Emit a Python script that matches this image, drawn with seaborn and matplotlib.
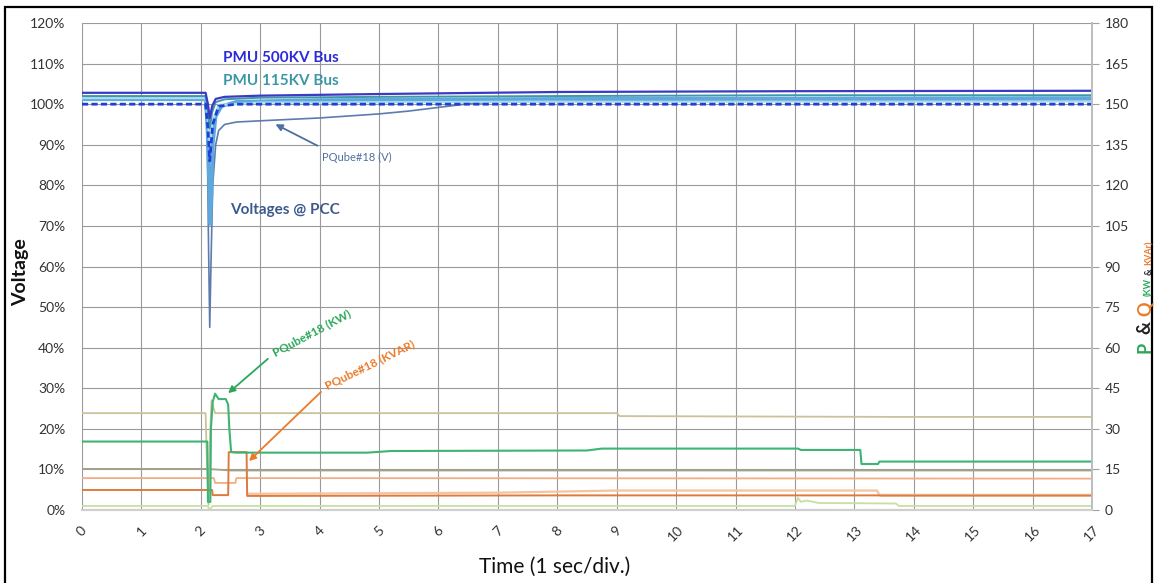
import matplotlib
matplotlib.use("Agg")
import matplotlib.pyplot as plt
import seaborn as sns
import numpy as np
from matplotlib.patches import Rectangle

sns.set_theme(style="white")
plt.rcParams['font.family'] = ['Lato', 'DejaVu Sans']

# ---------------- data ----------------
# Voltage series (percent, left axis)
v500_t = [0, 2.08, 2.12, 2.15, 2.19, 2.25, 2.4, 3, 5, 8, 12, 17]
v500_v = [102.8, 102.8, 100, 96.5, 99.5, 101.3, 101.8, 102.1, 102.5, 103.0, 103.2, 103.3]

v115_t = [0, 2.08, 2.12, 2.15, 2.19, 2.25, 2.4, 3, 5, 8, 12, 17]
v115_v = [102.0, 102.0, 98, 94, 98, 100.5, 101.2, 101.6, 101.8, 102.0, 102.2, 102.2]

vcyan_t = [0, 2.08, 2.12, 2.15, 2.2, 2.3, 3, 8, 17]
vcyan_v = [101.5, 101.5, 96, 90, 96, 99.8, 100.4, 100.6, 100.7]

vlight_t = [0, 2.08, 2.11, 2.14, 2.16, 2.18, 2.2, 2.25, 2.35, 2.6, 4, 8, 17]
vlight_v = [101.2, 101.2, 95, 80, 70.5, 78, 90, 97, 99.5, 100.6, 101.0, 101.3, 101.5]

vdash_t = [0, 2.08, 2.12, 2.15, 2.2, 2.3, 2.6, 17]
vdash_v = [100, 100, 94, 86, 95, 99.5, 100, 100]

vpq_t = [0, 2.08, 2.11, 2.13, 2.15, 2.17, 2.2, 2.25, 2.3, 2.4, 2.6, 3, 4, 5, 5.5, 6, 6.5, 7, 9, 17]
vpq_v = [101.3, 101.3, 90, 65, 45, 60, 80, 90, 93.5, 95, 95.6, 95.9, 96.6, 97.6, 98.3, 99.2, 100.1, 100.6, 100.9, 101.0]

# P & Q series (right axis, kW / kVAr)
khaki_t = [0, 2.08, 2.1, 2.13, 2.16, 2.18, 2.21, 2.24, 9.0, 9.05, 13.8, 17]
khaki_v = [35.8, 35.8, 20, 2, 30, 40.5, 38, 35.8, 35.8, 34.7, 34.4, 34.4]

kw_t = [0, 2.11, 2.12, 2.16, 2.17, 2.2, 2.24, 2.3, 2.42, 2.46, 2.48, 2.51, 2.6, 4.8, 5.2,
        8.5, 8.75, 12.05, 12.1, 13.1, 13.12, 13.4, 13.42, 17]
kw_v = [25.3, 25.3, 3, 3, 30, 40, 43, 41, 41, 39, 30, 21.4, 21.2, 21.2, 21.8,
        22.0, 22.7, 22.7, 22.2, 22.2, 17.0, 17.0, 17.9, 17.9]

olive_t = [0, 2.1, 2.5, 17]
olive_v = [15.2, 15.2, 14.6, 14.6]

lorange_t = [0, 2.22, 2.24, 2.58, 2.6, 17]
lorange_v = [11.8, 11.8, 10.0, 10.0, 11.8, 11.6]

kvar_t = [0, 2.19, 2.2, 2.46, 2.47, 2.77, 2.78, 8, 13.4, 13.45, 17]
kvar_v = [7.4, 7.4, 5.5, 5.5, 21.4, 21.4, 5.2, 5.4, 5.4, 5.3, 5.3]

q2_t = [2.8, 7, 9, 13.38, 13.42, 17]
q2_v = [6.0, 6.4, 7.2, 7.2, 5.6, 5.6]

yg_t = [0, 2.12, 2.14, 2.2, 12.0, 12.05, 12.1, 12.2, 12.4, 13.7, 13.75, 17]
yg_v = [1.5, 1.5, 0, 1.5, 1.5, 4.5, 3.0, 3.5, 2.6, 2.4, 1.5, 1.5]

x_ticks = list(range(0, 18))
left_ticks = list(range(0, 121, 10))
right_ticks = list(range(0, 181, 15))

# ---------------- figure ----------------
W, H = 1157, 583
fig = plt.figure(figsize=(W / 100, H / 100), dpi=100)
ax = fig.add_axes([82 / W, 1 - 510 / H, (1092 - 82) / W, (510 - 23) / H])
ax2 = ax.twinx()
ax2.patch.set_visible(False)

def line(a, t, v, color, lw, **kw):
    sns.lineplot(x=t, y=v, ax=a, color=color, lw=lw, sort=False, estimator=None, **kw)

# voltages
line(ax, vpq_t, vpq_v, "#5d7cad", 1.2)
line(ax, vlight_t, vlight_v, "#5ea8de", 2.6)
line(ax, vcyan_t, vcyan_v, "#a9dcef", 1.6)
line(ax, v115_t, v115_v, "#3f98a8", 1.4)
line(ax, v500_t, v500_v, "#3a3ac4", 1.6)
line(ax, vdash_t, vdash_v, "#1f3fd6", 2.0, linestyle=(0, (2.2, 1.2)))

# P & Q
line(ax2, yg_t, yg_v, "#c7e09f", 1.3)
line(ax2, olive_t, olive_v, "#a4a487", 1.3)
line(ax2, khaki_t, khaki_v, "#c9c29c", 1.3)
line(ax2, lorange_t, lorange_v, "#f2ad82", 1.3)
line(ax2, q2_t, q2_v, "#f5c3a0", 1.6)
line(ax2, kvar_t, kvar_v, "#de7a3c", 1.4)
line(ax2, kw_t, kw_v, "#3db374", 1.5)

# axes
ax.set_xlim(0, 17)
ax.set_ylim(0, 120)
ax2.set_ylim(0, 180)
ax.set_xticks(x_ticks)
ax.set_xticklabels([str(t) for t in x_ticks], rotation=45, ha="center", va="top",
                   fontsize=10, color="#333333")
ax.set_yticks(left_ticks)
ax.set_yticklabels([f"{v}%" for v in left_ticks], fontsize=10, color="#333333")
ax2.set_yticks(right_ticks)
ax2.set_yticklabels([str(v) for v in right_ticks], fontsize=10, color="#333333")
ax.tick_params(axis="x", length=0, pad=10)
ax.tick_params(axis="y", length=0, pad=12)
ax2.tick_params(axis="y", length=5, width=0.8, color="#a0a0a0", pad=4, right=True)
ax.grid(True, axis="both", color="#9a9a9a", lw=0.8)
ax.set_axisbelow(True)
ax.set_xlabel("")
ax.set_ylabel("")
ax2.set_ylabel("")
for a in (ax, ax2):
    for s in ("top", "left"):
        a.spines[s].set_visible(False)
    a.spines["bottom"].set_color("#cfcfcf")
    a.spines["bottom"].set_linewidth(1.5)
    a.spines["right"].set_color("#bdbdbd")

def fx(px):
    return px / W

def fy(py):
    return 1 - py / H

# axis titles
fig.text(fx(21), fy(272), "Voltage", rotation=90, ha="center", va="center",
         fontsize=14, fontweight="bold", color="#111111")
fig.text(fx(555), fy(567), "Time (1 sec/div.)", ha="center", va="center",
         fontsize=15, color="#111111")

# right axis multi-colour title
fig.text(fx(1145), fy(347), "P", rotation=90, ha="center", va="center",
         fontsize=13, fontweight="bold", color="#2aa85a")
fig.text(fx(1145), fy(328), "&", rotation=90, ha="center", va="center",
         fontsize=13, fontweight="bold", color="#222222")
fig.text(fx(1145), fy(309), "Q", rotation=90, ha="center", va="center",
         fontsize=13, fontweight="bold", color="#ec7a28")
fig.text(fx(1149), fy(287), "(KW", rotation=90, ha="center", va="center",
         fontsize=6.5, fontweight="bold", color="#2aa85a")
fig.text(fx(1149), fy(272), "&", rotation=90, ha="center", va="center",
         fontsize=6.5, fontweight="bold", color="#222222")
fig.text(fx(1149), fy(253), "KVAr)", rotation=90, ha="center", va="center",
         fontsize=6.5, fontweight="bold", color="#ec7a28")

# annotations (in figure pixel space)
fig.text(fx(223), fy(58), "PMU 500KV Bus", ha="left", va="center",
         fontsize=11, fontweight="bold", color="#2b2bd8")
fig.text(fx(223), fy(81), "PMU 115KV Bus", ha="left", va="center",
         fontsize=11, fontweight="bold", color="#3b97a5")
fig.text(fx(230), fy(210), "Voltages @ PCC", ha="left", va="center",
         fontsize=11, fontweight="bold", color="#3d5a8c")
fig.text(fx(322), fy(157), "PQube#18 (V)", ha="left", va="center",
         fontsize=8, color="#4f6f9f")
fig.text(fx(312), fy(333), "PQube#18 (KW)", ha="center", va="center", rotation=28,
         fontsize=8.5, fontweight="bold", color="#2aa85a")
fig.text(fx(370), fy(365), "PQube#18 (KVAR)", ha="center", va="center", rotation=26,
         fontsize=8.5, fontweight="bold", color="#ec7a28")

arrow_kw = dict(arrowstyle="-|>", mutation_scale=10, lw=1.3)
fig.add_artist(matplotlib.patches.FancyArrowPatch(
    (fx(320), fy(147)), (fx(273), fy(123)), transform=fig.transFigure,
    color="#4f6f9f", **arrow_kw))
fig.add_artist(matplotlib.patches.FancyArrowPatch(
    (fx(270), fy(357)), (fx(226), fy(395)), transform=fig.transFigure,
    color="#2aa85a", **arrow_kw))
fig.add_artist(matplotlib.patches.FancyArrowPatch(
    (fx(323), fy(390)), (fx(247), fy(463)), transform=fig.transFigure,
    color="#ec7a28", **arrow_kw))

# outer frame
fig.add_artist(Rectangle((fx(5), -0.01), fx(1152) - fx(5), fy(7) + 0.01,
                         transform=fig.transFigure, fill=False, lw=1.6,
                         edgecolor="black"))

fig.savefig("out.png", dpi=100)
